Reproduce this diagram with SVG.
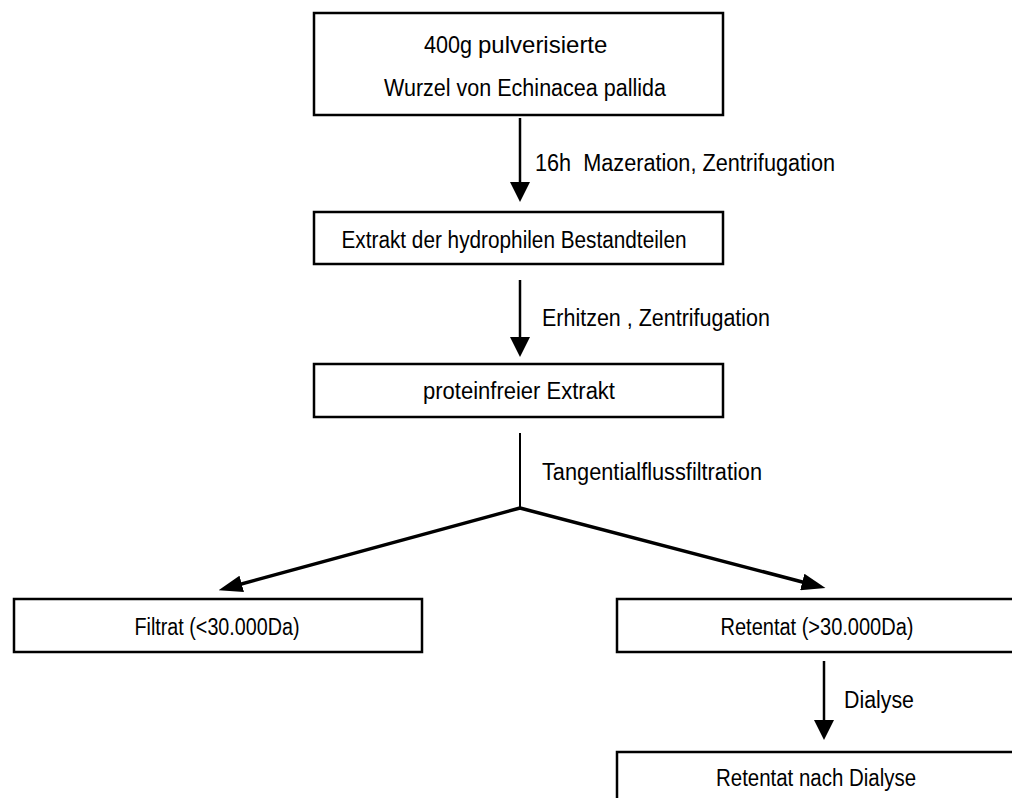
<svg xmlns="http://www.w3.org/2000/svg" width="1012" height="798" viewBox="0 0 1012 798">
<style>
.box{fill:#fff;stroke:#000;stroke-width:2.5}
.t{font-family:"Liberation Sans",Arial,sans-serif;font-size:23px;fill:#000;text-anchor:middle}
.l{font-family:"Liberation Sans",Arial,sans-serif;font-size:23px;fill:#000;white-space:pre}
.c{stroke:#000;fill:none}
</style>
<defs>
<marker id="ah" markerUnits="userSpaceOnUse" markerWidth="20" markerHeight="20" viewBox="0 0 20 20" refX="8" refY="10" orient="auto">
<path d="M0,0 L20,10 L0,20 Z" fill="#000"/>
</marker>
<marker id="ah2" markerUnits="userSpaceOnUse" markerWidth="24" markerHeight="17" viewBox="0 0 24 17" refX="8" refY="8.5" orient="auto">
<path d="M0,0 L24,8.5 L0,17 Z" fill="#000"/>
</marker>
</defs>
<g id="connectors">
<line class="c" x1="520" y1="118" x2="520" y2="190" stroke-width="2.5" marker-end="url(#ah)"/>
<line class="c" x1="520" y1="280" x2="520" y2="345" stroke-width="2.5" marker-end="url(#ah)"/>
<line class="c" x1="520" y1="433" x2="520" y2="508" stroke-width="2"/>
<line class="c" x1="520" y1="508" x2="234" y2="586" stroke-width="3.5" marker-end="url(#ah2)"/>
<line class="c" x1="520" y1="508" x2="810" y2="584" stroke-width="3.5" marker-end="url(#ah2)"/>
<line class="c" x1="824" y1="661" x2="824" y2="728" stroke-width="2.5" marker-end="url(#ah)"/>
<text class="l" x="535" y="171" textLength="300" lengthAdjust="spacingAndGlyphs">16h  Mazeration, Zentrifugation</text>
<text class="l" x="542" y="326" textLength="228" lengthAdjust="spacingAndGlyphs">Erhitzen , Zentrifugation</text>
<text class="l" x="542" y="480" textLength="220" lengthAdjust="spacingAndGlyphs">Tangentialflussfiltration</text>
<text class="l" x="844" y="708" textLength="70" lengthAdjust="spacingAndGlyphs">Dialyse</text>
</g>
<g id="n1">
<rect class="box" x="314" y="13" width="409" height="102"/>
<text class="l" x="424" y="53"><tspan textLength="48" lengthAdjust="spacingAndGlyphs">400g</tspan><tspan x="478" font-size="24">pulverisierte</tspan></text>
<text class="t" x="525" y="96" textLength="282" lengthAdjust="spacingAndGlyphs">Wurzel von Echinacea pallida</text>
</g>
<g id="n2">
<rect class="box" x="314" y="212" width="409" height="52"/>
<text class="t" x="514" y="248" textLength="345" lengthAdjust="spacingAndGlyphs">Extrakt der hydrophilen Bestandteilen</text>
</g>
<g id="n3">
<rect class="box" x="314" y="364" width="409" height="53"/>
<text class="t" x="519" y="399" textLength="192" lengthAdjust="spacingAndGlyphs">proteinfreier Extrakt</text>
</g>
<g id="n4">
<rect class="box" x="14" y="599" width="408" height="53"/>
<text class="t" x="217" y="635" textLength="165" lengthAdjust="spacingAndGlyphs">Filtrat (&lt;30.000Da)</text>
</g>
<g id="n5">
<rect class="box" x="617" y="599" width="409" height="53"/>
<text class="t" x="817" y="635" textLength="193" lengthAdjust="spacingAndGlyphs">Retentat (&gt;30.000Da)</text>
</g>
<g id="n6">
<rect class="box" x="617" y="752" width="409" height="53"/>
<text class="t" x="816" y="786" textLength="200" lengthAdjust="spacingAndGlyphs">Retentat nach Dialyse</text>
</g>
</svg>
